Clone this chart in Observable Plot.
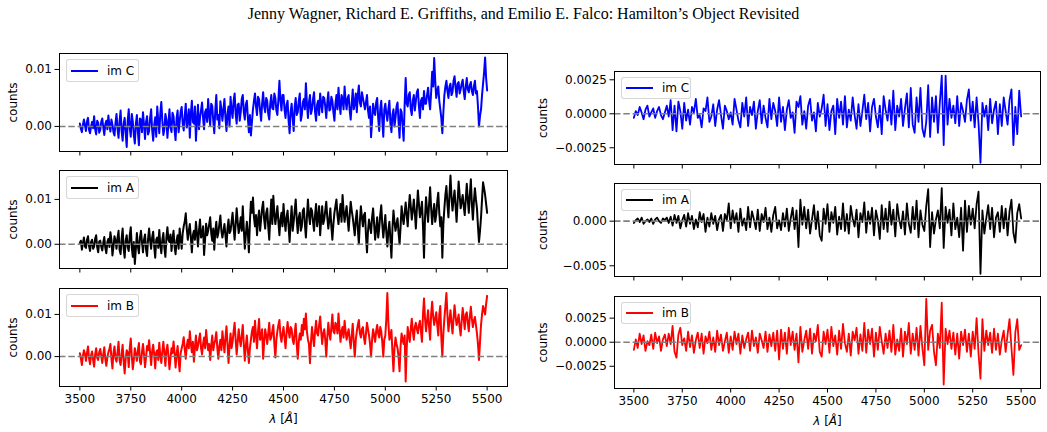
<!DOCTYPE html>
<html>
<head>
<meta charset="utf-8">
<script src="https://cdn.jsdelivr.net/npm/d3@7"></script>
<script src="https://cdn.jsdelivr.net/npm/@observablehq/plot@0.6"></script>
<style>
  body { margin: 0; background: #fff; }
  #fig { position: relative; width: 1047px; height: 432px; font-family: "DejaVu Sans", sans-serif; color: #000; overflow: hidden; }
  #title { position: absolute; top: 5px; left: 0; width: 1047px; text-align: center; font-family: "Liberation Serif", "Times New Roman", serif; font-size: 16px; line-height: 18px; }
  .panel { position: absolute; }
  .legend { position: absolute; box-sizing: border-box; background: rgba(255,255,255,0.8); border: 1px solid rgba(204,204,204,0.8); border-radius: 3px; font-size: 12px; }
  .legend .swatch { position: absolute; left: 4px; width: 26.6px; height: 1.8px; }
  .legend .name { position: absolute; left: 40px; line-height: 14px; white-space: nowrap; }
</style>
</head>
<body>
<div id="fig">
  <div id="title">Jenny Wagner, Richard E. Griffiths, and Emilio E. Falco: Hamilton’s Object Revisited</div>
</div>
<script>
// Wavelength grids (Å): spectra at 5 Å, residuals at 10 Å sampling
const waveSpec = d3.range(3500, 5501, 5);
const waveResid = d3.range(3500, 5501, 10);

// Extracted spectra per image, in counts × 10⁻⁴ (one row per 100 Å)
const specC = [
  5,-4,-10,3,12,2,-8,9,15,-6,-12,0,8,-3,18,-5,-14,10,6,-11,
  -6,8,14,-2,-15,4,10,-5,19,2,-9,12,3,-10,-16,6,22,-4,-20,9,
  28,-8,-25,5,15,-12,-36,10,30,-3,-18,22,8,-15,-30,4,20,-10,-33,14,
  12,-10,25,3,-22,8,18,-14,-8,15,30,-6,-25,2,16,-18,35,10,-12,22,
  43,10,-15,-5,22,12,-20,5,30,-2,-10,24,18,-6,-24,14,28,-10,8,26,
  34,5,-7,18,40,-2,12,30,-20,22,45,8,5,35,-25,10,38,-5,15,28,
  42,15,-5,25,30,8,48,20,2,40,36,10,-12,28,55,12,20,-3,44,30,
  10,30,48,15,-8,22,35,0,52,28,15,45,58,22,5,38,40,10,25,48,
  55,25,12,38,45,15,-10,20,-16,8,30,45,58,35,20,52,48,28,10,40,
  60,35,25,50,45,22,12,40,55,32,30,58,50,28,20,48,80,45,28,55,
  55,30,15,38,45,10,-12,25,40,15,-8,35,50,20,25,45,58,10,20,42,
  48,30,76,40,15,42,55,22,30,48,60,25,10,38,45,20,58,40,25,52,
  50,35,15,42,60,28,30,52,45,25,10,40,55,30,68,40,22,55,48,30,
  70,45,30,50,55,28,12,40,65,30,40,58,25,55,72,42,35,60,50,40,
  30,42,55,28,15,35,-19,10,40,25,20,42,50,15,-8,30,45,12,-18,30,
  40,22,10,30,45,5,-10,20,30,0,15,35,42,8,-20,30,25,0,-25,40,
  85,40,35,55,60,30,20,45,55,28,45,60,65,35,15,45,50,30,62,40,
  40,55,68,45,30,60,96,70,120,80,50,62,70,45,30,15,-12,25,55,70,
  80,62,50,70,75,55,60,80,88,68,52,75,78,58,65,75,82,62,48,70,
  85,65,60,72,78,62,55,70,80,58,62,35,0,18,30,55,75,95,121,85,
  63
];
const specA = [
  3,8,-12,2,15,-5,-8,10,18,-4,-15,5,10,-10,-5,12,20,-6,-18,6,
  8,-5,-14,4,16,-8,-20,5,12,-6,27,10,-25,-5,18,8,-10,15,30,-12,
  -22,12,35,-10,-30,8,20,-6,-15,20,38,-8,-28,5,-44,-10,25,-5,-20,15,
  30,5,-18,10,22,-12,-26,12,35,8,-10,15,28,-5,-30,10,15,-8,32,-2,
  -20,10,25,-8,-28,15,38,10,5,22,-15,12,30,-5,-22,8,20,-10,35,12,
  -10,25,40,50,69,35,10,30,45,15,-18,20,30,10,50,25,-5,30,55,15,
  20,40,-24,12,46,20,30,45,60,25,8,35,-12,28,50,15,25,45,64,30,
  15,30,45,20,-5,35,55,25,30,50,70,38,10,45,80,50,25,40,60,30,
  85,35,-10,20,50,25,-18,50,95,70,104,60,40,65,20,55,75,30,55,80,
  95,55,35,70,80,40,10,60,100,45,108,70,45,65,85,50,20,55,70,40,
  90,55,30,60,75,40,5,50,85,30,50,75,100,55,25,60,70,30,40,75,
  80,45,15,60,100,65,45,80,75,50,30,65,90,40,60,85,20,55,85,45,
  55,75,95,60,35,55,80,40,10,45,70,85,100,65,45,70,90,50,110,75,
  50,70,85,55,30,65,95,75,60,40,20,55,75,35,0,50,85,60,40,65,
  70,20,-18,30,55,40,25,60,80,45,10,35,60,15,35,65,87,45,15,40,
  65,25,-5,30,50,10,-30,35,75,50,30,45,58,25,0,40,85,60,45,70,
  93,65,40,80,110,85,55,75,100,70,35,80,120,90,60,75,95,40,-30,60,
  105,75,50,90,127,80,45,70,90,50,65,95,115,70,40,60,-30,45,80,110,
  130,90,60,110,153,105,75,100,120,85,50,95,140,110,80,95,110,85,65,100,
  135,100,70,110,145,90,55,95,125,100,80,40,5,30,60,100,138,125,110,90,
  70
];
const specB = [
  8,-5,-20,2,15,6,-10,8,24,-4,-18,3,12,-8,-24,5,20,-3,-8,10,
  18,2,-15,5,22,-6,-22,-2,10,18,30,-5,-28,8,24,-4,-12,10,35,-8,
  -20,5,28,-10,-40,-5,15,10,-25,20,43,0,-30,-8,20,5,-10,15,32,-12,
  -18,10,30,5,-25,-2,25,15,39,8,-20,12,28,5,-28,10,15,-8,33,2,
  -15,12,35,8,-22,15,28,2,-30,-5,20,8,36,10,-26,5,25,-8,-35,8,
  20,30,46,18,-5,25,40,20,60,30,10,35,-12,22,50,15,25,40,55,20,
  5,30,45,20,63,35,15,30,-8,25,50,15,30,40,58,20,-5,25,40,15,
  60,35,10,45,72,30,-15,25,55,20,35,60,80,40,5,35,65,40,25,50,
  75,30,-10,25,50,15,-15,20,40,60,70,35,85,50,20,60,89,40,45,65,
  -5,35,65,50,30,55,80,40,45,60,75,30,-2,40,60,75,87,50,35,55,
  70,45,20,55,82,60,45,70,65,40,30,55,78,30,-5,35,55,40,75,50,
  90,65,102,60,40,30,-16,35,70,45,25,60,85,55,50,75,95,60,30,55,
  65,40,0,45,80,55,40,70,100,60,55,80,75,55,102,65,35,60,70,45,
  85,60,40,55,65,40,20,50,78,35,0,40,60,75,87,55,45,65,70,45,
  30,55,80,65,50,30,0,40,65,50,35,60,75,55,45,70,60,35,0,40,
  50,90,151,80,40,50,63,10,-35,20,45,30,20,0,-35,25,55,40,30,50,
  -59,20,70,50,35,65,90,60,40,70,80,65,55,75,85,60,35,100,138,90,
  60,85,110,70,40,100,130,95,75,90,105,75,50,100,120,45,0,55,90,120,
  151,100,60,85,110,80,55,90,122,95,75,85,100,70,50,85,115,90,65,100,
  105,80,60,95,118,90,70,85,94,75,55,30,-8,35,75,100,120,110,100,125,
  144
];

// Residuals after subtracting the smooth continuum, in counts × 10⁻⁴ (one row per 100 Å)
const residC = [
  -3,2,-1,5,1,-4,3,6,-2,1,
  4,-3,2,5,-1,-4,1,6,-2,10,
  -12,6,-13,9,2,-11,8,-5,3,-8,
  5,1,11,-3,-1,-10,4,2,12,-6,
  -2,7,-9,3,10,-1,-11,6,2,-4,
  1,-8,11,3,-5,-10,8,-2,12,-9,
  5,-1,9,-11,2,10,-7,6,-3,-10,
  11,-4,8,2,-9,12,-6,5,-12,3,
  10,-3,1,-14,9,5,13,-8,2,-11,
  6,11,-5,1,-13,8,-2,4,14,-9,
  7,-12,2,6,-15,11,-3,9,-8,13,
  -10,3,-5,12,-1,-11,7,-9,2,14,
  -4,8,-13,5,11,-2,-10,6,-15,13,
  3,-5,10,-8,17,-12,6,-2,11,-9,
  4,15,-10,19,-8,-14,12,-6,19,-11,
  -17,-6,21,-17,12,-6,13,-14,8,28,
  -23,28,-8,11,-3,6,-7,13,-9,8,
  2,-6,10,18,-5,9,-10,12,-7,-36,
  8,-2,6,-12,11,-7,3,9,-15,7,
  -9,12,2,-8,10,18,-23,5,-15,17,
  -2
];
const residA = [
  -2,1,3,-1,4,-3,0,2,-1,3,
  -3,2,4,0,-2,3,1,4,-2,5,
  -5,7,-2,6,-8,1,7,-6,9,-3,
  6,-9,2,-7,10,-1,8,-12,4,-6,
  9,-3,6,-10,2,7,-11,8,1,20,
  -8,12,-2,9,-12,14,-5,3,-10,16,
  -7,11,2,-9,13,-11,8,-1,15,-9,
  4,-12,7,16,-8,1,-10,9,-6,14,
  -11,3,15,-9,12,-29,24,-4,16,-8,
  13,-14,2,18,-9,11,-16,-22,14,-3,
  19,-12,10,-2,16,-15,5,-9,20,-11,
  8,-14,17,3,-6,13,-18,9,-1,21,
  -13,11,-3,15,-16,12,1,-20,18,-9,
  14,-12,22,-4,13,-17,19,2,-8,11,
  -15,20,-3,-13,16,-9,23,-18,12,-4,
  -11,17,36,-29,10,-14,2,12,-8,37,
  -30,16,-2,13,-16,20,-9,4,-18,15,
  -33,23,-12,17,-4,14,-8,19,33,-59,
  12,-14,3,18,-9,15,-18,4,10,-12,
  17,-8,14,-16,11,24,-13,-24,9,19,
  3
];
const residB = [
  -8,3,-6,9,-2,7,-9,1,-3,8,
  -7,10,-1,6,-9,3,8,-4,9,-2,
  17,-10,-16,8,15,-3,4,-9,11,-5,
  7,-11,2,10,-6,9,-12,6,-1,11,
  -8,5,-10,12,-3,8,-9,1,10,-11,
  6,-8,11,-2,9,-12,7,-6,3,10,
  -9,12,-4,5,-11,9,2,-6,11,-10,
  8,-4,10,-9,12,-18,13,-7,10,-12,
  15,-3,11,-8,9,-21,16,-10,2,12,
  -7,14,-12,9,1,18,-10,-15,11,-2,
  13,-11,16,-4,7,-13,12,-7,19,-1,
  -10,9,-14,11,2,15,-12,8,-9,20,
  -11,13,-2,14,-15,10,-8,16,1,-12,
  9,-6,12,-10,18,-13,3,-9,14,-15,
  11,-2,20,-12,9,-8,15,-14,17,-6,
  -24,45,-8,12,18,-10,-24,9,-6,41,
  -44,14,-2,12,-7,10,-13,9,-17,11,
  -3,13,-10,9,-15,11,-7,25,-12,-38,
  24,-9,12,-3,10,-11,14,-8,9,-13,
  2,12,-10,8,24,-6,-34,10,24,-8,
  -3
];

const images = ["im C", "im A", "im B"];
const colors = ["#0000ff", "#000000", "#ff0000"];
const xTicks = [3500, 3750, 4000, 4250, 4500, 4750, 5000, 5250, 5500];

// Panel layout: left column = spectra, right column = residuals
const panels = [
  {series: specC, wave: waveSpec, img: 0, col: 0, top: 53,  h: 98, y: [-0.0044, 0.0128],  ticks: [0, 0.01], fmt: ".2f"},
  {series: specA, wave: waveSpec, img: 1, col: 0, top: 170, h: 98, y: [-0.0054, 0.01644], ticks: [0, 0.01], fmt: ".2f"},
  {series: specB, wave: waveSpec, img: 2, col: 0, top: 288, h: 98, y: [-0.0071, 0.01615], ticks: [0, 0.01], fmt: ".2f", bottom: true},
  {series: residC, wave: waveResid, img: 0, col: 1, top: 71,  h: 93, y: [-0.00373, 0.00311], ticks: [-0.0025, 0, 0.0025], fmt: ".4f"},
  {series: residA, wave: waveResid, img: 1, col: 1, top: 183, h: 93, y: [-0.0062, 0.00422],  ticks: [-0.005, 0], fmt: ".3f"},
  {series: residB, wave: waveResid, img: 2, col: 1, top: 296, h: 92, y: [-0.00481, 0.00475], ticks: [-0.0025, 0, 0.0025], fmt: ".4f", bottom: true}
];
const columns = [
  {left: 0,   marginLeft: 59, frameW: 448, labelOffset: 51, lineW: 2},
  {left: 525, marginLeft: 89, frameW: 426, labelOffset: 76, lineW: 1.8}
];

const fig = document.getElementById("fig");
const svgNS = "http://www.w3.org/2000/svg";

for (const p of panels) {
  const c = columns[p.col];
  const mt = 5, mr = 7, mb = p.bottom ? 45 : 10;
  const data = p.wave.map((w, i) => ({w, v: p.series[i] * 1e-4}));
  const chart = Plot.plot({
    width: c.marginLeft + c.frameW + mr,
    height: mt + p.h + mb,
    marginTop: mt, marginRight: mr, marginBottom: mb, marginLeft: c.marginLeft,
    style: {fontFamily: "DejaVu Sans", fontSize: "12px", color: "#000", background: "transparent", overflow: "visible"},
    x: {domain: [3400, 5600]},
    y: {domain: p.y},
    marks: [
      Plot.line(data, {x: "w", y: "v", stroke: colors[p.img], strokeWidth: c.lineW}),
      Plot.ruleY([0], {stroke: "#808080", strokeWidth: 1.6, strokeDasharray: "6.5,2.8"}),
      Plot.frame({stroke: "#000", strokeWidth: 1}),
      Plot.axisX({
        ticks: xTicks, tickSize: 4.5, tickPadding: 3,
        tickFormat: p.bottom ? (d => String(d)) : (() => ""),
        label: p.bottom ? "λ [Å]" : null, labelAnchor: "center", labelArrow: "none", labelOffset: 36
      }),
      Plot.axisY({
        ticks: p.ticks, tickSize: 4.5, tickPadding: 3, tickFormat: d3.format(p.fmt),
        label: "counts", labelAnchor: "center", labelArrow: "none", labelOffset: c.labelOffset
      })
    ]
  });
  chart.classList.add("panel");
  chart.style.left = c.left + "px";
  chart.style.top = (p.top - mt) + "px";
  fig.appendChild(chart);

  // italic symbols in the wavelength label
  const lab = chart.querySelector('[aria-label="x-axis label"] text');
  if (lab) {
    lab.textContent = "";
    for (const [t, it] of [["λ", true], [" [", false], ["Å", true], ["]", false]]) {
      const s = document.createElementNS(svgNS, "tspan");
      s.textContent = t;
      if (it) s.setAttribute("font-style", "italic");
      lab.appendChild(s);
    }
  }

  // legend box in the upper-left corner of each panel
  const lg = document.createElement("div");
  lg.className = "legend";
  lg.style.left = (c.left + c.marginLeft + 7) + "px";
  lg.style.top = (p.top + 6) + "px";
  lg.style.width = (p.col ? 70 : 72.5) + "px";
  lg.style.height = (p.col ? 21.5 : 22.5) + "px";
  const sw = document.createElement("div");
  sw.className = "swatch";
  sw.style.background = colors[p.img];
  sw.style.top = (p.col ? 9.3 : 9.8) + "px";
  const nm = document.createElement("div");
  nm.className = "name";
  nm.style.top = (p.col ? 3 : 3.5) + "px";
  nm.textContent = images[p.img];
  lg.appendChild(sw);
  lg.appendChild(nm);
  fig.appendChild(lg);
}
</script>
</body>
</html>
